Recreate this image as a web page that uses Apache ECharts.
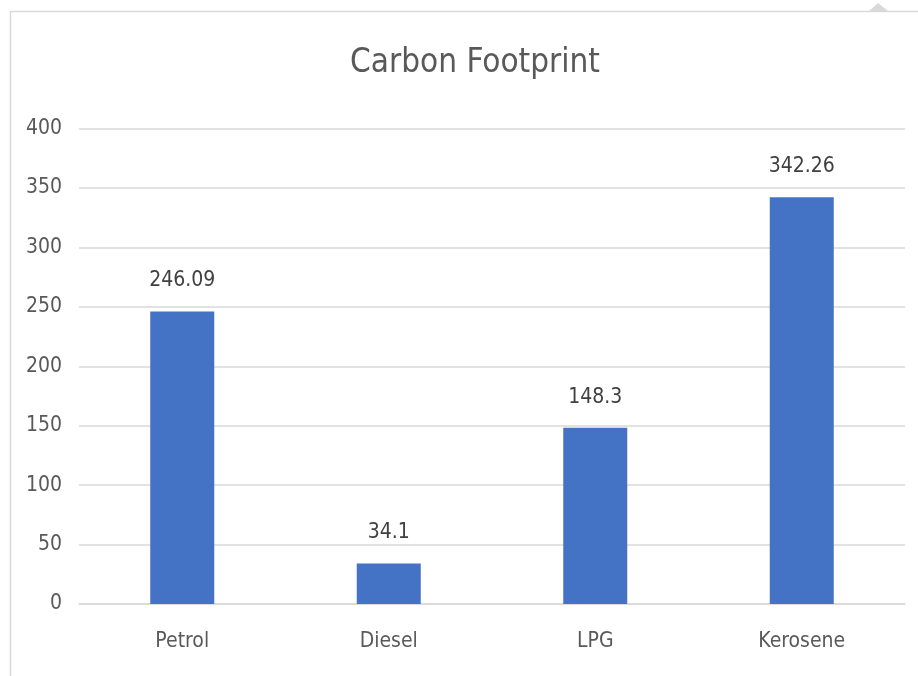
<!DOCTYPE html>
<html>
<head>
<meta charset="utf-8">
<script src="https://cdn.jsdelivr.net/npm/echarts@6/dist/echarts.min.js"></script>
<style>
html,body{margin:0;padding:0;background:#fff;}
#chart{width:918px;height:676px;}
</style>
</head>
<body>
<div id="chart"></div>
<script>
const categories = ['Petrol', 'Diesel', 'LPG', 'Kerosene'];
const values = [246.09, 34.1, 148.3, 342.26];
const yTicks = { min: 0, max: 400, interval: 50 };

const FONT = '"Liberation Sans Narrow", "DejaVu Sans Condensed", "Open Sans", sans-serif';
const chart = echarts.init(document.getElementById('chart'));
chart.setOption({
  animation: false,
  backgroundColor: '#ffffff',
  title: {
    text: 'Carbon Footprint',
    left: 470, top: 42, textAlign: 'center',
    textStyle: { fontFamily: FONT, fontSize: 33, fontWeight: 'normal', color: '#595959' }
  },
  graphic: [
    { type: 'polyline', shape: { points: [[10.5, 676], [10.5, 11.5], [918, 11.5]] },
      style: { stroke: '#d9d9d9', lineWidth: 1.5, fill: null } },
    { type: 'polygon', shape: { points: [[869, 11], [878, 3], [888, 11]] },
      style: { fill: '#d9d9d9' } }
  ],
  grid: { left: 79, right: 13, top: 128.5, bottom: 72, containLabel: false },
  xAxis: {
    type: 'category', data: categories,
    axisLine: { show: true, lineStyle: { color: '#d9d9d9', width: 1.5 } },
    axisTick: { show: false },
    axisLabel: { margin: 27, fontFamily: FONT, fontSize: 21, color: '#595959' }
  },
  yAxis: {
    type: 'value', min: yTicks.min, max: yTicks.max, interval: yTicks.interval,
    axisLine: { show: false }, axisTick: { show: false },
    splitLine: { lineStyle: { color: '#d9d9d9', width: 1.5 } },
    axisLabel: { margin: 17, fontFamily: FONT, fontSize: 21, color: '#595959' }
  },
  series: [{
    type: 'bar', data: values, barWidth: 64,
    itemStyle: { color: '#4472C4' },
    label: { show: true, position: 'top', distance: 20, fontFamily: FONT, fontSize: 21, color: '#404040' }
  }]
});
</script>
</body>
</html>
